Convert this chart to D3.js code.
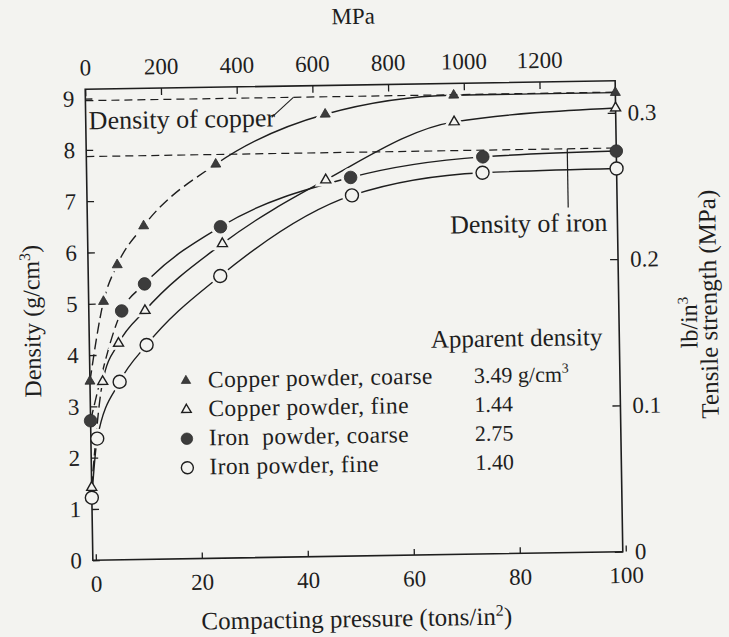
<!DOCTYPE html>
<html><head><meta charset="utf-8">
<script src="https://cdn.jsdelivr.net/npm/d3@7"></script>
<style>
html,body{margin:0;padding:0;background:#f3f3f0;}
svg{display:block;}
text{font-family:"Liberation Serif","Times New Roman",serif;fill:#1e1e1e;}
</style></head><body>
<svg id="chart" width="729" height="637"></svg>
<script>
// ---------- data ----------
const copperCoarseX = [0, 2.8, 5.5, 10.6, 24.4, 45.2, 69.5, 100];
const copperCoarseY = [3.49, 5.04, 5.75, 6.5, 7.68, 8.62, 8.95, 8.95];
const copperFineX = [0, 2.4, 5.5, 10.6, 25.4, 45.1, 69.5, 100];
const copperFineY = [1.42, 3.48, 4.22, 4.85, 6.13, 7.34, 8.43, 8.65];
const ironCoarseX = [0, 6.2, 10.6, 25.1, 49.8, 74.8, 100];
const ironCoarseY = [2.72, 4.85, 5.37, 6.46, 7.38, 7.74, 7.81];
const ironFineX = [0, 1.2, 5.6, 10.8, 24.9, 50, 74.7, 100];
const ironFineY = [1.22, 2.37, 3.47, 4.18, 5.5, 7.03, 7.43, 7.47];
const copperDensity = 8.96;
const ironDensity = 7.87;
const bottomTicks = [0, 20, 40, 60, 80, 100];
const topTicks = [0, 200, 400, 600, 800, 1000, 1200];
const leftTicks = [0, 1, 2, 3, 4, 5, 6, 7, 8, 9];
const rightTicks = [0, 0.1, 0.2, 0.3];
const legendNames = ["Copper powder, coarse", "Copper powder, fine", "Iron  powder, coarse", "Iron powder, fine"];
const apparentDensity = ["3.49", "1.44", "2.75", "1.40"];

// ---------- layout ----------
const W = 729, H = 637, BG = "#f3f3f0", INK = "#1e1e1e";
const L = 89, R = 619, T = 85, B = 556;
const FONT = "Liberation Serif, Times New Roman, serif";
const x = d3.scaleLinear().domain([0, 100]).range([L, R]);
const y = d3.scaleLinear().domain([0, (B - T) / 51.3]).range([B, T]);
const yR = d3.scaleLinear().domain([0, 0.3]).range([B, 117]);
const xT = d3.scaleLinear().domain([0, 1400]).range([L, R]);

const svg = d3.select("#chart");
svg.append("rect").attr("width", W).attr("height", H).attr("fill", BG);
const g = svg.append("g").attr("transform", "rotate(-0.93,354,320.5)");

const series = [
  {xs: copperCoarseX, ys: copperCoarseY, shape: "tri", filled: true, dashTo: 24.4},
  {xs: copperFineX, ys: copperFineY, shape: "tri", filled: false, dashTo: 2.4},
  {xs: ironCoarseX, ys: ironCoarseY, shape: "circ", filled: true, dashTo: 12},
  {xs: ironFineX, ys: ironFineY, shape: "circ", filled: false, dashTo: 0}
];

const line = d3.line().x(d => x(d[0])).y(d => y(d[1])).curve(d3.curveMonotoneX);

// curves
series.forEach(s => {
  const pts = s.xs.map((v, i) => [v, s.ys[i]]);
  const p = g.append("path").attr("d", line(pts)).attr("fill", "none")
    .attr("stroke", INK).attr("stroke-width", 1.4);
  if (s.dashTo > 0) {
    const node = p.node(), total = node.getTotalLength(), xs = x(s.dashTo);
    let lo = 0, hi = total;
    for (let i = 0; i < 40; i++) { const m = (lo + hi) / 2; if (node.getPointAtLength(m).x < xs) lo = m; else hi = m; }
    const arr = []; let acc = 0; const dsh = 11, gap = 5;
    while (acc + dsh + gap <= lo) { arr.push(dsh, gap); acc += dsh + gap; }
    const rem = lo - acc;
    if (rem > dsh) arr.push(dsh, rem - dsh); else arr.push(rem, 0);
    arr.push(total + 10, 0);
    p.attr("stroke-dasharray", arr.join(","));
  }
});

function triPath(s) {
  const h = s * 0.866;
  return `M0,${-h * 2 / 3}L${s / 2},${h / 3}L${-s / 2},${h / 3}Z`;
}
function drawMarker(sel, shape, filled, cx, cy, halo) {
  let m;
  if (shape === "tri") {
    m = sel.append("path").attr("d", triPath(10)).attr("transform", `translate(${cx},${cy})`);
  } else {
    m = sel.append("circle").attr("cx", cx).attr("cy", cy).attr("r", filled ? 6.3 : 6.5);
  }
  if (halo) {
    m.attr("fill", BG).attr("stroke", BG).attr("stroke-width", 7);
  } else if (filled) {
    m.attr("fill", "#3c3c3c").attr("stroke", "#2a2a2a").attr("stroke-width", 0.8);
  } else {
    m.attr("fill", BG).attr("stroke", INK).attr("stroke-width", 1.4);
  }
}

// halos (gaps in curves around markers)
series.forEach(s => s.xs.forEach((v, i) => {
  if (v > 0 && v < 100) drawMarker(g, s.shape, s.filled, x(v), y(s.ys[i]), true);
}));

// frame
g.append("rect").attr("x", L).attr("y", T).attr("width", R - L).attr("height", B - T)
  .attr("fill", "none").attr("stroke", INK).attr("stroke-width", 1.6);

// reference density lines
[copperDensity, ironDensity].forEach(v => {
  g.append("line").attr("x1", L).attr("x2", R).attr("y1", y(v)).attr("y2", y(v))
    .attr("stroke", INK).attr("stroke-width", 1.2).attr("stroke-dasharray", "8,5");
});

// axes
function styleAxis(a, fs) {
  a.attr("font-family", FONT).attr("font-size", fs);
  a.select(".domain").remove();
  a.selectAll(".tick line").attr("stroke", INK).attr("stroke-width", 1.3);
  a.selectAll(".tick text").attr("fill", INK);
}
const fmt = d => String(d);
styleAxis(g.append("g").attr("transform", `translate(${L},0)`)
  .call(d3.axisLeft(y).tickValues(leftTicks).tickSize(-7).tickPadding(11).tickFormat(fmt)), 23);
styleAxis(g.append("g").attr("transform", `translate(3,${B})`)
  .call(d3.axisBottom(x).tickValues(bottomTicks).tickSize(-6).tickPadding(15).tickFormat(fmt)), 23);
styleAxis(g.append("g").attr("transform", `translate(0,${T})`)
  .call(d3.axisTop(xT).tickValues(topTicks).tickSize(-7).tickPadding(14).tickFormat(fmt)), 23);
styleAxis(g.append("g").attr("transform", `translate(${R},0)`)
  .call(d3.axisRight(yR).tickValues(rightTicks).tickSize(-8).tickPadding(12)
    .tickFormat(d => d === 0 ? "0" : d3.format(".1f")(d))), 23);

// markers
series.forEach(s => s.xs.forEach((v, i) => {
  drawMarker(g, s.shape, s.filled, x(v), y(s.ys[i]), false);
}));

// annotations
g.append("text").attr("x", 92).attr("y", 125).attr("font-size", 26).text("Density of copper");
g.append("line").attr("x1", 275).attr("y1", 116).attr("x2", 297).attr("y2", y(copperDensity))
  .attr("stroke", INK).attr("stroke-width", 1.1);
g.append("text").attr("x", 609).attr("y", 235).attr("font-size", 26).attr("text-anchor", "end").text("Density of iron");
g.append("line").attr("x1", 570).attr("x2", 570).attr("y1", y(ironDensity)).attr("y2", 211)
  .attr("stroke", INK).attr("stroke-width", 1.2);

// legend
g.append("text").attr("x", 602).attr("y", 349).attr("font-size", 25).attr("text-anchor", "end").text("Apparent density");
const rowY = [378, 407, 436, 465];
series.forEach((s, i) => {
  if (s.shape === "tri") {
    g.append("path").attr("d", triPath(9.5)).attr("transform", `translate(185,${rowY[i]})`)
      .attr("fill", s.filled ? "#3c3c3c" : BG).attr("stroke", INK).attr("stroke-width", s.filled ? 0.6 : 1.4);
  } else {
    g.append("circle").attr("cx", 185).attr("cy", rowY[i]).attr("r", s.filled ? 5.8 : 6)
      .attr("fill", s.filled ? "#3c3c3c" : BG).attr("stroke", INK).attr("stroke-width", s.filled ? 0.6 : 1.4);
  }
  g.append("text").attr("x", 207).attr("y", rowY[i] + 7).attr("font-size", 23.5)
    .attr("letter-spacing", 0.4).attr("xml:space", "preserve").text(legendNames[i]);
  const t = g.append("text").attr("x", 473).attr("y", rowY[i] + 7).attr("font-size", 22).text(apparentDensity[i]);
  if (i === 0) {
    t.append("tspan").text(" g/cm");
    t.append("tspan").attr("dy", -9).attr("font-size", 14).text("3");
  }
});

// axis titles
g.append("text").attr("x", 358).attr("y", 24).attr("font-size", 23).attr("text-anchor", "middle").text("MPa");
const bt = g.append("text").attr("x", 352).attr("y", 627).attr("font-size", 25).attr("text-anchor", "middle");
bt.append("tspan").text("Compacting pressure (tons/in");
bt.append("tspan").attr("dy", -9).attr("font-size", 16).text("2");
bt.append("tspan").attr("dy", 9).text(")");

const lt = g.append("text").attr("transform", "translate(40,316) rotate(-90)").attr("font-size", 24).attr("text-anchor", "middle");
lt.append("tspan").text("Density (g/cm");
lt.append("tspan").attr("dy", -9).attr("font-size", 16).text("3");
lt.append("tspan").attr("dy", 9).text(")");

const rt1 = g.append("text").attr("transform", "translate(697,328) rotate(-90)").attr("font-size", 24).attr("text-anchor", "middle");
rt1.append("tspan").text("lb/in");
rt1.append("tspan").attr("dy", -9).attr("font-size", 15).text("3");
g.append("text").attr("transform", "translate(717,310) rotate(-90)").attr("font-size", 25).attr("text-anchor", "middle")
  .text("Tensile strength (MPa)");
</script>
</body></html>
